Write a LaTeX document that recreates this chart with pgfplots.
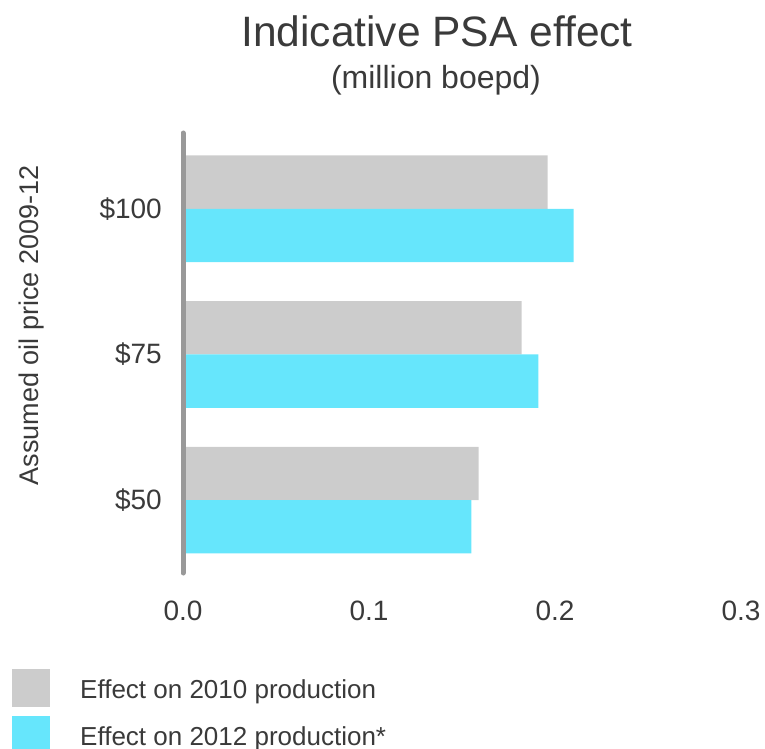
\documentclass[border=0pt]{standalone}
\usepackage{pgfplots}
\pgfplotsset{compat=1.18}
\usepackage{fontspec}
\setmainfont{Liberation Sans}

\definecolor{txt}{HTML}{3A3A3A}
\definecolor{barGray}{HTML}{CCCCCC}
\definecolor{barCyan}{HTML}{66E6FC}
\definecolor{axGray}{HTML}{999999}

\begin{document}
\begin{tikzpicture}
\useasboundingbox (0,0) rectangle (765pt,748pt);

% title + unit
\node[anchor=base, text=txt, font=\fontsize{42.5}{50}\selectfont] at (437pt,701pt) {Indicative PSA effect};
\node[anchor=base, text=txt, font=\fontsize{32}{38}\selectfont] at (436pt,659pt) {(million boepd)};

\begin{axis}[
    at={(183pt,175pt)}, anchor=south west,
    width=558pt, height=440pt, scale only axis,
    axis on top,
    xbar, bar width=0.366,
    xmin=0, xmax=0.3,
    ymin=-0.5, ymax=2.52,
    axis lines*=left,
    x axis line style={draw=none},
    y axis line style={-, line width=5pt, draw=axGray, line cap=round},
    major tick length=0pt,
    xtick={0,0.1,0.2,0.3},
    xticklabels={0.0,0.1,0.2,0.3},
    ytick={0,1,2},
    yticklabels={\$50,\$75,\$100},
    /pgf/number format/assume math mode=true,
    tick label style={text=txt, font=\fontsize{28}{34}\selectfont, inner sep=0pt},
    xticklabel style={anchor=north, yshift=-28pt},
    yticklabel style={anchor=east, xshift=-21pt},
    ylabel={Assumed oil price 2009-12},
    ylabel style={at={(axis description cs:-0.2706,0.5625)}, anchor=center,
                  text=txt, font=\fontsize{27}{32}\selectfont},
    legend cell align=left,
    legend style={at={(axis description cs:-0.3065,-0.2182)}, anchor=north west,
                  draw=none, fill=none, inner sep=0pt, row sep=9pt,
                  font=\fontsize{26}{31}\selectfont, text=txt,
                  nodes={inner sep=0pt},
                  /tikz/every odd column/.append style={column sep=30pt}},
    legend image code/.code={\fill[#1] (0pt,-17pt) rectangle (38pt,21pt);},
]
\addplot[fill=barGray, draw=none, bar shift=0.183] coordinates {
    (0.159,0) (0.182,1) (0.196,2)
};
\addlegendentry{Effect on 2010 production}
\addplot[fill=barCyan, draw=none, bar shift=-0.183] coordinates {
    (0.155,0) (0.191,1) (0.210,2)
};
\addlegendentry{Effect on 2012 production*}
\end{axis}
\end{tikzpicture}
\end{document}
